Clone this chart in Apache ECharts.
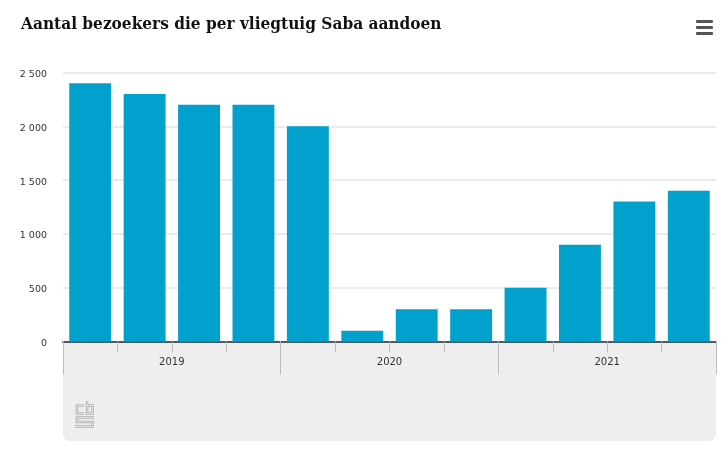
<!DOCTYPE html>
<html>
<head>
<meta charset="utf-8">
<style>
html, body { margin: 0; padding: 0; background: #fff; }
#chart { width: 727px; height: 451px; }
</style>
</head>
<body>
<div id="chart"></div>
<script src="https://cdn.jsdelivr.net/npm/echarts@6/dist/echarts.min.js"></script>
<script>
const titleText = "Aantal bezoekers die per vliegtuig Saba aandoen";
const quarters = ["2019 Q1", "2019 Q2", "2019 Q3", "2019 Q4", "2020 Q1", "2020 Q2", "2020 Q3", "2020 Q4", "2021 Q1", "2021 Q2", "2021 Q3", "2021 Q4"];
const years = ["2019", "2020", "2021"];
const visitors = [2400, 2300, 2200, 2200, 2000, 100, 300, 300, 500, 900, 1300, 1400];

const myChart = echarts.init(document.getElementById("chart"), null, { renderer: "canvas" });

const font = "'DejaVu Sans'";

// cbs logo: dikke grijze lijn met een dunne lijn in de vlakkleur erop, dan lijkt het een contour
function logoLine(points) {
	return [
		{ type: "polyline", z: 2, silent: true, shape: { points: points }, style: { stroke: "#b0b0b0", lineWidth: 2.6, fill: null } },
		{ type: "polyline", z: 3, silent: true, shape: { points: points }, style: { stroke: "#eeeeee", lineWidth: 0.8, fill: null } }
	];
}

const option = {
	animation: false,
	title: {
		text: titleText,
		left: 16,
		top: 11,
		textStyle: { fontFamily: "'DejaVu Serif Condensed', 'DejaVu Serif'", fontWeight: "bold", fontSize: 17.1, color: "#111" }
	},
	grid: { left: 63, right: 11, top: 72.5, bottom: 109.5, containLabel: false },
	xAxis: [
		{
			type: "category",
			data: quarters,
			axisLine: { lineStyle: { color: "#4a5a66", width: 2 } },
			axisTick: { show: true, interval: 0, length: 11, lineStyle: { color: "#bdbdbd" } },
			axisLabel: { show: false, interval: 0 }
		},
		{
			type: "category",
			position: "bottom",
			data: years,
			axisLine: { show: false },
			axisTick: { show: true, interval: 0, length: 33, lineStyle: { color: "#bdbdbd" } },
			axisLabel: { show: true, interval: 0, margin: 16, fontFamily: font, fontSize: 10, color: "#333" }
		}
	],
	yAxis: {
		type: "value",
		min: 0,
		max: 2500,
		interval: 500,
		axisLine: { show: false },
		axisTick: { show: false },
		axisLabel: {
			margin: 16,
			formatter: function (v) {
				return "{v|" + String(v).replace(/\B(?=(\d{3})+$)/g, " ") + "}";
			},
			rich: {
				v: { fontFamily: font, fontSize: 9.5, color: "#333", padding: [4, 0, 0, 0] }
			}
		},
		splitLine: { lineStyle: { color: "#ebebeb", width: 2 } }
	},
	series: [
		{
			type: "bar",
			data: visitors,
			barCategoryGap: "23%",
			itemStyle: { color: "#00a1cd" }
		}
	],
	graphic: [
		// grijs vlak onder de as
		{
			type: "rect",
			z: -1,
			silent: true,
			shape: { x: 63, y: 341, width: 653, height: 100, r: [0, 0, 7, 7] },
			style: { fill: "#eeeeee" }
		},
		// menu knop
		{ type: "rect", silent: true, shape: { x: 696, y: 20, width: 17, height: 3, r: 1 }, style: { fill: "#555" } },
		{ type: "rect", silent: true, shape: { x: 696, y: 26, width: 17, height: 3, r: 1 }, style: { fill: "#555" } },
		{ type: "rect", silent: true, shape: { x: 696, y: 32, width: 17, height: 3, r: 1 }, style: { fill: "#555" } }
	].concat(
		logoLine([[84, 405.5], [77, 405.5], [77, 413.5], [84, 413.5]]),
		logoLine([[87, 401], [87, 413.5], [92.5, 413.5], [92.5, 405.5], [87, 405.5]]),
		logoLine([[94, 417.5], [77, 417.5], [77, 422], [92.5, 422], [92.5, 426.5], [75, 426.5]])
	)
};

myChart.setOption(option);
window.addEventListener("resize", function () {
	myChart.resize();
});
</script>
</body>
</html>
